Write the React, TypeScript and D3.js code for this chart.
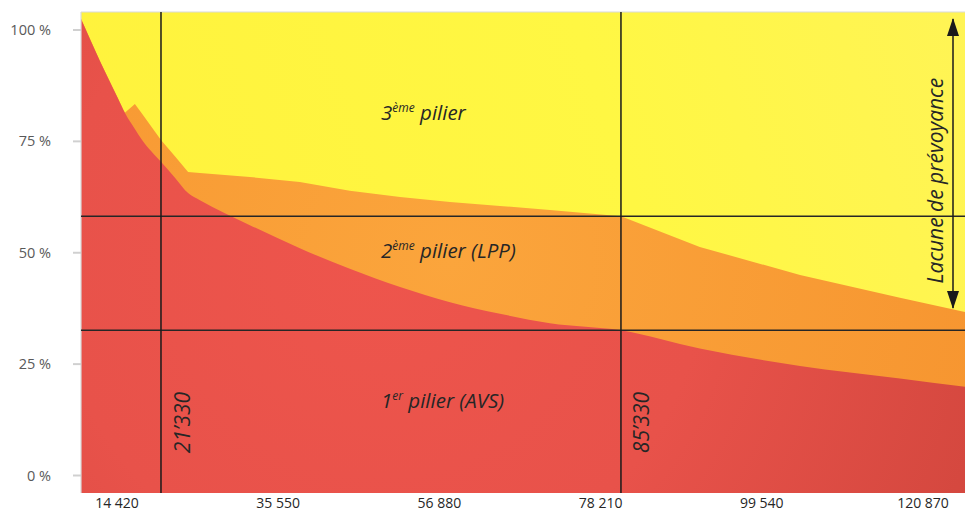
import React from 'react';
import * as d3 from 'd3';

// ---- data ----
const incomes = [10200, 12850, 15350, 16300, 17700, 18700, 21330, 23300, 25100, 26750, 33700, 40650, 47600, 54600, 61550, 68500, 75450, 85330, 96300, 110250, 124150, 133200];
const avsPct = [102.5, 93.0, 84.6, 81.4, 77.8, 75.3, 70.4, 66.8, 63.4, 61.8, 56.2, 51.0, 46.4, 42.3, 38.9, 36.3, 34.2, 32.6, 28.5, 24.6, 21.8, 19.9];
const totalPct = [102.5, 93.0, 84.6, 81.4, 83.4, 81.2, 75.3, 71.6, 68.1, 67.9, 67.0, 65.9, 63.9, 62.5, 61.4, 60.5, 59.6, 58.2, 51.3, 45.0, 39.9, 36.7];
const xTickLabels = ['14 420', '35 550', '56 880', '78 210', '99 540', '120 870'];
const yTicks = [0, 25, 50, 75, 100];
const thresholds = [21330, 85330];
const thresholdLabels = ['21’330', '85’330'];

const W = 965;
const H = 511;
const plot = { left: 81, right: 965, top: 12, bottom: 493 };

const FONT = "'Open Sans', 'Noto Sans', sans-serif";

export default function App() {
  const x = d3.scaleLinear().domain([incomes[0], incomes[incomes.length - 1]]).range([plot.left, plot.right]);
  const y = d3.scaleLinear().domain([0, 100]).range([475.5, 30]);
  const xLab = d3.scalePoint<string>().domain(xTickLabels).range([117, 923]);

  const pts = incomes.map((v, i) => ({ v, avs: avsPct[i], tot: totalPct[i] }));
  const redArea = d3.area<any>().curve(d3.curveMonotoneX).x(d => x(d.v)).y0(plot.bottom).y1(d => y(d.avs))(pts) || '';
  const orangeArea = d3.area<any>().x(d => x(d.v)).y0(plot.bottom).y1(d => y(d.tot))(pts) || '';

  const iMax = incomes.indexOf(85330);
  const hLines = [totalPct[iMax], avsPct[iMax]];

  const arrowX = 953;
  const arrowTop = 15;
  const arrowBot = 312;

  return (
    <div style={{ position: 'fixed', left: 0, top: 0 }}>
      <svg width={W} height={H} style={{ display: 'block', background: '#fff' }}>
        <defs>
          <linearGradient id="gy" gradientUnits="userSpaceOnUse" x1="81" y1="300" x2="965" y2="20">
            <stop offset="0" stopColor="#FFF23C" />
            <stop offset="0.6" stopColor="#FFF743" />
            <stop offset="1" stopColor="#FFF455" />
          </linearGradient>
          <radialGradient id="go" gradientUnits="userSpaceOnUse" cx="450" cy="260" r="600">
            <stop offset="0" stopColor="#FBA53C" />
            <stop offset="1" stopColor="#F6942F" />
          </radialGradient>
          <radialGradient id="gr" gradientUnits="userSpaceOnUse" cx="380" cy="260" r="650">
            <stop offset="0" stopColor="#EE554C" />
            <stop offset="0.5" stopColor="#E8524A" />
            <stop offset="1" stopColor="#D3473E" />
          </radialGradient>
          <clipPath id="clip">
            <rect x={plot.left} y={plot.top} width={plot.right - plot.left} height={plot.bottom - plot.top} />
          </clipPath>
          <marker id="ah" viewBox="0 0 18 12" refX="17" refY="6" markerWidth="18" markerHeight="12" markerUnits="userSpaceOnUse" orient="auto-start-reverse">
            <path d="M0,0 L18,6 L0,12 Z" fill="#1a1a1a" />
          </marker>
        </defs>

        {/* plot areas */}
        <g clipPath="url(#clip)">
          <rect x={plot.left} y={plot.top} width={plot.right - plot.left} height={plot.bottom - plot.top} fill="url(#gy)" />
          <path d={orangeArea} fill="url(#go)" />
          <path d={redArea} fill="url(#gr)" />
        </g>

        {/* light frame */}
        <line x1={plot.left} x2={plot.right} y1={plot.top} y2={plot.top} stroke="#d9d9d9" strokeWidth={1.2} />
        <line x1={plot.left} x2={plot.left} y1={plot.top} y2={plot.bottom} stroke="#d9d9d9" strokeWidth={1.2} />

        {/* y ticks */}
        {yTicks.map(t => (
          <g key={t}>
            <line x1={73} x2={81} y1={y(t)} y2={y(t)} stroke="#d0d0d0" strokeWidth={2} />
            <text x={51} y={y(t)} dy="0.35em" textAnchor="end" fontFamily={FONT} fontSize={14.5} fill="#595959">{`${t} %`}</text>
          </g>
        ))}

        {/* x tick labels */}
        {xTickLabels.map(l => (
          <text key={l} x={xLab(l)} y={508} textAnchor="middle" fontFamily={FONT} fontSize={14} fill="#262626">{l}</text>
        ))}

        {/* reference lines */}
        {hLines.map((v, i) => (
          <line key={'h' + i} x1={plot.left} x2={plot.right} y1={y(v)} y2={y(v)} stroke="#262626" strokeWidth={1.5} />
        ))}
        {thresholds.map((v, i) => (
          <line key={'v' + i} x1={x(v)} x2={x(v)} y1={plot.top} y2={plot.bottom} stroke="#1a1a1a" strokeWidth={1.5} />
        ))}
        {thresholds.map((v, i) => (
          <text key={'vl' + i} transform={`translate(${x(v) + (i === 0 ? 22 : 20.5)},422.5) rotate(-90)`} textAnchor="middle" dy="0.35em"
            fontFamily={FONT} fontStyle="italic" fontSize={21} fill="#262626">{thresholdLabels[i]}</text>
        ))}

        {/* series labels */}
        <text x={381} y={119.5} fontFamily={FONT} fontStyle="italic" fontSize={20.5} fill="#262626">
          3<tspan fontSize={12} dy={-8}>ème</tspan><tspan dy={8}> pilier</tspan>
        </text>
        <text x={381} y={258} fontFamily={FONT} fontStyle="italic" fontSize={20.5} fill="#262626">
          2<tspan fontSize={12} dy={-8}>ème</tspan><tspan dy={8}> pilier (LPP)</tspan>
        </text>
        <text x={381} y={408} fontFamily={FONT} fontStyle="italic" fontSize={20.5} fill="#262626">
          1<tspan fontSize={12} dy={-8}>er</tspan><tspan dy={8}> pilier (AVS)</tspan>
        </text>

        {/* gap arrow */}
        <line x1={arrowX} x2={arrowX} y1={arrowTop + 4} y2={arrowBot - 4} stroke="#1a1a1a" strokeWidth={1.5}
          markerStart="url(#ah)" markerEnd="url(#ah)" />
        <text transform={`translate(935.8,180.7) rotate(-90)`} textAnchor="middle" dy="0.35em"
          fontFamily={FONT} fontStyle="italic" fontSize={21} fill="#262626">Lacune de prévoyance</text>
      </svg>
    </div>
  );
}
